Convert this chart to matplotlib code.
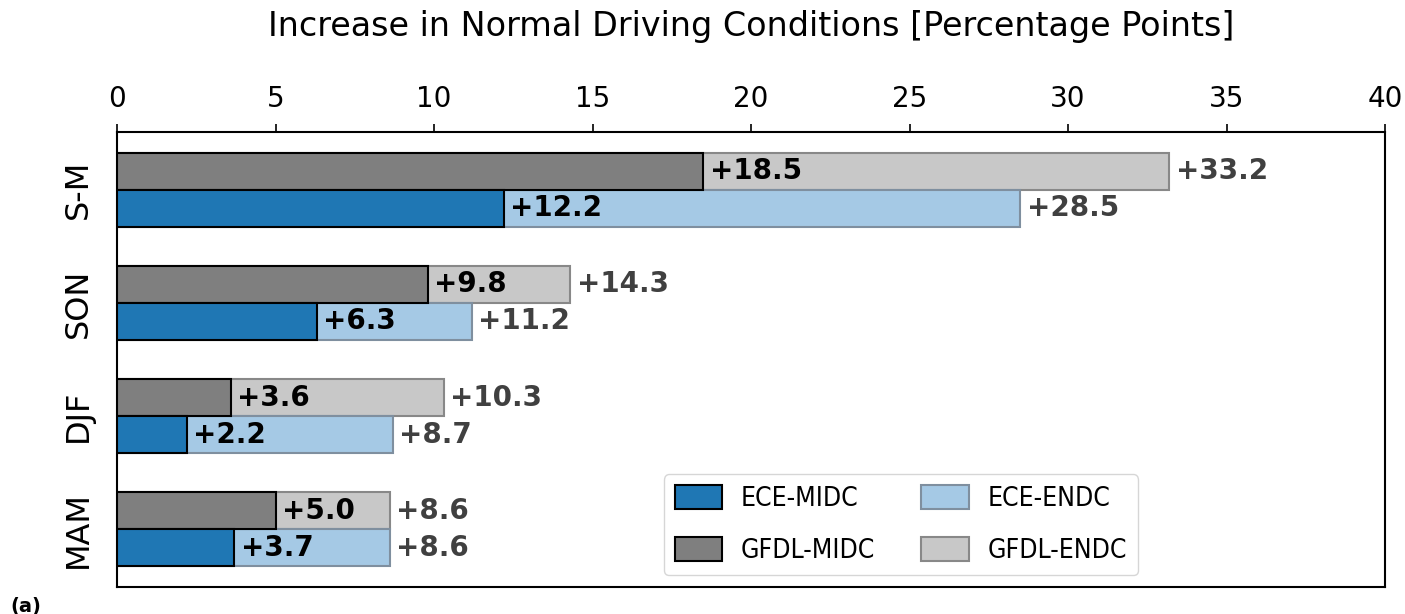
import numpy as np
import matplotlib.pyplot as plt
from matplotlib import font_manager

seasons = ["MAM", "DJF", "SON", "S-M"]
ece_midc = [3.7, 2.2, 6.3, 12.2]
ece_endc = [8.6, 8.7, 11.2, 28.5]
gfdl_midc = [5.0, 3.6, 9.8, 18.5]
gfdl_endc = [8.6, 10.3, 14.3, 33.2]

BLUE = "#1f77b4"
LIGHT_BLUE = "#a5c9e5"
GRAY = "#7f7f7f"
LIGHT_GRAY = "#c8c8c8"


def main():
    plt.rcParams["font.family"] = "DejaVu Sans"
    fig = plt.figure(figsize=(14.05, 6.14), dpi=100)
    ax = fig.add_axes([0.0833, 0.044, 0.9025, 0.741])

    y = np.arange(len(seasons))
    h = 0.327
    off = h / 2

    # ENDC bars go behind, MIDC bars on top
    ax.barh(y + off, gfdl_endc, h, color=LIGHT_GRAY, edgecolor="#888888", lw=1.5, label="GFDL-ENDC", zorder=2)
    ax.barh(y - off, ece_endc, h, color=LIGHT_BLUE, edgecolor="#7f8f9f", lw=1.5, label="ECE-ENDC", zorder=2)
    ax.barh(y + off, gfdl_midc, h, color=GRAY, edgecolor="black", lw=1.5, label="GFDL-MIDC", zorder=3)
    ax.barh(y - off, ece_midc, h, color=BLUE, edgecolor="black", lw=1.5, label="ECE-MIDC", zorder=3)

    for i in range(len(seasons)):
        for yy, mid, end in [(y[i] + off, gfdl_midc[i], gfdl_endc[i]),
                             (y[i] - off, ece_midc[i], ece_endc[i])]:
            ax.text(mid + 0.2, yy, f"+{mid:.1f}", va="center", ha="left",
                    fontsize=20, fontweight="bold", color="black", zorder=4)
            ax.text(end + 0.2, yy, f"+{end:.1f}", va="center", ha="left",
                    fontsize=20, fontweight="bold", color="#404040", zorder=4)

    ax.set_xlim(0, 40)
    ax.set_ylim(-0.51, 3.51)
    ax.set_yticks(y)
    ax.set_yticklabels(seasons, rotation=90, va="center", fontsize=23)
    ax.tick_params(axis="y", length=0, pad=17)
    ax.xaxis.tick_top()
    ax.tick_params(axis="x", labelsize=20, length=6, width=1.2, pad=8)
    for s in ax.spines.values():
        s.set_linewidth(1.5)

    fig.text(0.5345, 1 - 36 / 614, "Increase in Normal Driving Conditions [Percentage Points]",
             ha="center", va="baseline", fontsize=24)

    # condensed face for the legend if one is installed
    fonts = font_manager.fontManager.ttflist
    names = {f.name for f in fonts}
    has_cond = any(f.name == "DejaVu Sans" and f.stretch == "condensed" for f in fonts)
    if "Liberation Sans Narrow" in names:
        leg_prop = {"family": "Liberation Sans Narrow", "size": 20}
    elif has_cond:
        leg_prop = {"family": "DejaVu Sans", "stretch": "condensed", "size": 19}
    else:
        leg_prop = {"family": "DejaVu Sans", "size": 17}

    handles, labels = ax.get_legend_handles_labels()
    order = ["ECE-MIDC", "GFDL-MIDC", "ECE-ENDC", "GFDL-ENDC"]
    hd = dict(zip(labels, handles))
    ax.legend([hd[k] for k in order], order, ncol=2, loc="lower right",
              prop=leg_prop,
              bbox_to_anchor=(0.805, 0.026), borderaxespad=0, handlelength=1.8,
              handleheight=1.0, handletextpad=0.7, labelspacing=0.95,
              columnspacing=1.75, borderpad=0.42)

    fig.text(10 / 1405, 0.004, "(a)", fontsize=14, fontweight="bold")

    plt.savefig("out.png", dpi=100)


if __name__ == "__main__":
    main()
